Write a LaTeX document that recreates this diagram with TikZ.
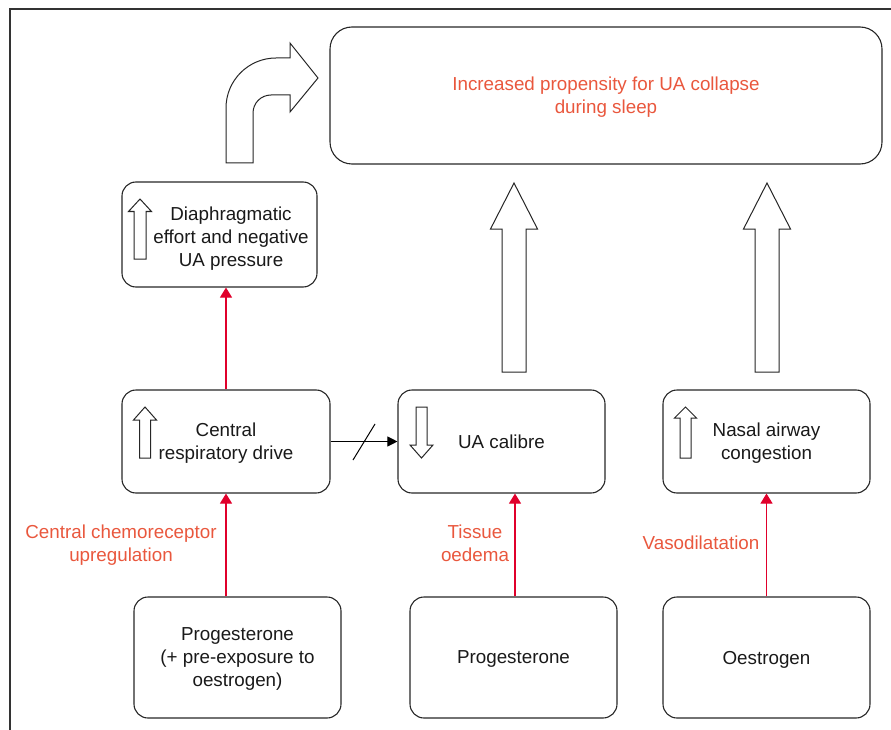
\documentclass[tikz,border=0pt]{standalone}
\usepackage{fontspec}
\setmainfont{Liberation Sans}
\usetikzlibrary{arrows.meta}
\definecolor{labred}{RGB}{233,87,61}
\definecolor{linkred}{RGB}{224,0,43}
\begin{document}
\begin{tikzpicture}[x=1pt, y=-1pt,
    every node/.style={font=\fontsize{18.8}{23}\selectfont, align=center, text=black!90, text depth=0pt},
    box/.style={draw=black!85, line width=1.1pt, rounded corners=14pt, inner sep=0pt},
    redlink/.style={linkred, line width=1.1pt, -{Triangle[width=12pt,length=10pt]}},
    redlbl/.style={text=labred},
    hollow/.style={draw=black!85, line width=1pt, fill=white, line join=miter}]
    \useasboundingbox (0,0) rectangle (891,730);
    % Frame
    \draw[black!80, line width=1.5pt] (10,730) -- (10,9) -- (891,9);
    % Boxes
    \node[box, rounded corners=22pt, minimum width=552pt, minimum height=137pt, redlbl] (sleep) at (606,95.5)
        {Increased propensity for UA collapse\\during sleep};
    \node[box, minimum width=195pt, minimum height=105pt] (diaph) at (219.5,234.5) {};
    \node (diaphtxt) at (231,237) {Diaphragmatic\\effort and negative\\UA pressure};
    \node[box, minimum width=208pt, minimum height=103pt] (drive) at (226,441.5) {Central\\respiratory drive};
    \node[box, minimum width=207pt, minimum height=103pt] (calibre) at (501.5,441.5) {UA calibre};
    \node[box, minimum width=207pt, minimum height=103pt] (nasal) at (766.5,441.5) {Nasal airway\\congestion};
    \node[box, minimum width=207pt, minimum height=121pt] (prog) at (237.5,657.5)
        {Progesterone\\(+ pre-exposure to\\oestrogen)};
    \node[box, minimum width=207pt, minimum height=121pt] (progb) at (513.5,657.5) {Progesterone};
    \node[box, minimum width=207pt, minimum height=121pt] (oest) at (766.5,657.5) {Oestrogen};
    % Red links and their labels
    \draw[redlink] (drive.south |- prog.north) -- (drive.south);
    \draw[redlink] (drive.north) -- (drive.north |- diaph.south);
    \draw[redlink] ([xshift=1.5pt]progb.north) -- ([xshift=1.5pt]progb.north |- calibre.south);
    \draw[redlink] (oest.north) -- (nasal.south);
    \node[redlbl] (chemo) at (121,543) {Central chemoreceptor\\upregulation};
    \node[redlbl] (oedema) at (475,543) {Tissue\\oedema};
    \node[redlbl] (vaso) at (701,543) {Vasodilatation};
    % Blocked link
    \draw[black, line width=1pt, -{Triangle[width=10pt,length=10pt]}] (drive.east) -- (calibre.west);
    \draw[black, line width=1pt] (353,460) -- (375,424);
    % Hollow arrows
    \draw[hollow] (226,163) -- (226,108) arc[start angle=180, end angle=270, radius=50] -- (290,58)
        -- (290,43) -- (318,78) -- (290,112) -- (290,95) -- (271,95)
        arc[start angle=270, end angle=180, radius=18] -- (253,163) -- cycle;
    \draw[hollow] (502,372) -- (502,229) -- (490.5,229) -- (514,183) -- (537.5,229) -- (526,229) -- (526,372) -- cycle;
    \draw[hollow] (755,372) -- (755,229) -- (743.5,229) -- (767,183) -- (790.5,229) -- (779,229) -- (779,372) -- cycle;
    % Small arrows in boxes
    \draw[hollow] (134,259) -- (134,211.5) -- (128.5,211.5) -- (140,199) -- (151.5,211.5) -- (146,211.5) -- (146,259) -- cycle;
    \draw[hollow] (139.5,458) -- (139.5,420) -- (133.5,420) -- (145,407) -- (156.5,420) -- (150.5,420) -- (150.5,458) -- cycle;
    \draw[hollow] (416,407) -- (416,445) -- (410,445) -- (421.5,458) -- (433,445) -- (427,445) -- (427,407) -- cycle;
    \draw[hollow] (680,458) -- (680,418) -- (674.5,418) -- (685.5,407) -- (696.5,418) -- (691,418) -- (691,458) -- cycle;
\end{tikzpicture}
\end{document}
